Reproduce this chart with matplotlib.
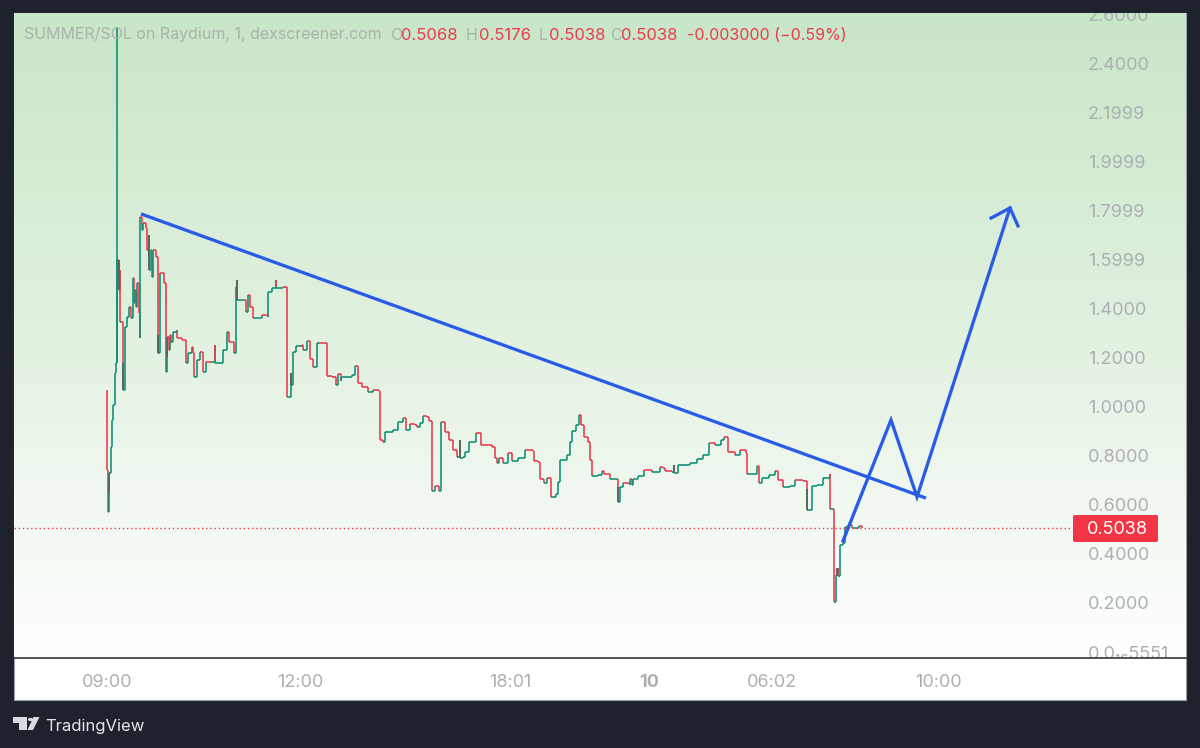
import numpy as np
import matplotlib
matplotlib.use('Agg')
import matplotlib.pyplot as plt
from matplotlib.patches import Rectangle, Polygon, Circle, FancyBboxPatch
from matplotlib.transforms import ScaledTranslation

# price bars as (bar index, close), 09:00 = bar 0
first_open = 1.065
bars_launch = [(0.3, 0.739), (1.3, 0.569), (2, 0.644), (2, 0.725), (3.7, 0.834), (5, 0.943), (6.3, 1.004),
               (7.7, 1.072), (7.7, 1.134), (9, 1.174), (10.3, 1.596), (11.7, 1.474), (13, 1.555),
               (13, 1.344), (15.3, 1.344), (16.3, 1.065), (18, 1.174), (18, 1.324), (19.7, 1.365), (22.3, 1.406),
               (23.7, 1.358), (25.7, 1.521), (27, 1.419), (28, 1.474), (29, 1.406), (30, 1.501), (31.7, 1.378),
               (32.7, 1.276), (33.3, 1.773), (34.7, 1.719), (36.3, 1.746), (38.7, 1.725), (39.7, 1.637),
               (41.7, 1.698), (41.7, 1.555), (43.7, 1.637), (45.3, 1.528), (46.3, 1.637), (48.7, 1.61),
               (50.7, 1.596), (50.7, 1.215), (53, 1.542), (57, 1.501), (59, 1.14)]
bars_range = [(60.3, 1.283), (61.7, 1.229), (63, 1.29), (64.3, 1.263), (66.3, 1.304), (69.7, 1.31), (69.7, 1.276),
              (74.7, 1.27), (78.7, 1.263), (78.7, 1.174), (81.3, 1.215), (84.7, 1.242), (85.7, 1.215), (87, 1.12),
              (89.7, 1.188), (93, 1.222), (95.7, 1.202), (95.7, 1.14), (98.7, 1.181), (104.7, 1.178), (108, 1.249),
              (108, 1.174), (113.7, 1.174), (115.7, 1.229), (119.7, 1.304), (122.3, 1.263), (127, 1.256),
              (127, 1.218), (128.7, 1.487), (130, 1.514), (130, 1.433), (135.7, 1.433), (138.7, 1.385),
              (140.7, 1.453), (143, 1.406), (146.3, 1.358), (151.3, 1.358), (154.7, 1.372), (161.3, 1.365),
              (161.3, 1.467), (164.7, 1.48), (169, 1.514), (169, 1.48), (176.3, 1.487), (179.7, 1.48)]
bars_slide = [(179.7, 1.038), (182, 1.038), (183.7, 1.134), (183.7, 1.086), (186.3, 1.222), (188.7, 1.246),
              (194.7, 1.249), (196.3, 1.229), (200.3, 1.267), (203, 1.191), (206.3, 1.161), (209.7, 1.256),
              (213, 1.259), (219.7, 1.246), (219.7, 1.123), (224.7, 1.12), (228.7, 1.086), (231.3, 1.131),
              (234, 1.1), (234, 1.12), (244.7, 1.127), (248, 1.165), (250.7, 1.093), (254.7, 1.079), (261.3, 1.059),
              (266.3, 1.065), (272, 1.061), (273, 0.949), (273, 0.861), (276.3, 0.854), (278, 0.895), (286.3, 0.904),
              (291.3, 0.936), (296.3, 0.949), (299, 0.902), (303, 0.925), (308, 0.922), (309.7, 0.913), (313, 0.929),
              (316.3, 0.959), (320.3, 0.956), (322.3, 0.94), (324.7, 0.936), (324.7, 0.653), (328, 0.673),
              (332, 0.653), (333.7, 0.936), (338, 0.895), (342.3, 0.861), (346.3, 0.82), (349.7, 0.793), (353, 0.861),
              (353, 0.786), (355.7, 0.793), (358, 0.813), (362.3, 0.854), (369, 0.891), (371.7, 0.888), (374, 0.841),
              (384.7, 0.834), (388, 0.786), (389.7, 0.768), (392.3, 0.786), (396.3, 0.768), (401.3, 0.809),
              (404.7, 0.777), (411.3, 0.789), (418, 0.82), (425.7, 0.817), (427, 0.777), (430.7, 0.772), (433, 0.704),
              (437, 0.687), (440.3, 0.707), (443.7, 0.63), (449, 0.641), (450.7, 0.691), (453, 0.779), (459.7, 0.8),
              (463, 0.854), (465.3, 0.899), (469, 0.922), (472, 0.963), (473.7, 0.922), (477, 0.875), (481.3, 0.854),
              (483, 0.779), (484.7, 0.714), (491.3, 0.718), (494.7, 0.736), (497.3, 0.722), (503, 0.704),
              (509.7, 0.704), (511, 0.609), (513, 0.67), (516.3, 0.684), (523, 0.677), (523, 0.704), (524.7, 0.677),
              (526.3, 0.7), (531.3, 0.714), (537, 0.738), (544.7, 0.729), (553, 0.752)]
bars_late = [(556, 0.745), (558, 0.736), (564.7, 0.732), (567, 0.759), (567, 0.727), (569.7, 0.727), (571.3, 0.761),
             (583, 0.768), (589.7, 0.782), (595.7, 0.8), (602.3, 0.847), (608, 0.84), (613.7, 0.861), (617, 0.872),
             (620.7, 0.854), (620.7, 0.813), (628, 0.8), (633, 0.82), (639, 0.809), (640.3, 0.722), (648, 0.722),
             (650.3, 0.756), (652, 0.684), (654.7, 0.708), (662.3, 0.718), (668, 0.736), (671.3, 0.697), (675.7, 0.67),
             (683, 0.673), (688, 0.697), (696.3, 0.695), (699.7, 0.663), (699.7, 0.575), (703, 0.575), (704.7, 0.673),
             (709.7, 0.677), (716.3, 0.708), (723, 0.722), (723, 0.578), (725.7, 0.578), (726.7, 0.201), (728.7, 0.31),
             (730.7, 0.337), (730.7, 0.307), (733.3, 0.432), (736.3, 0.439), (738, 0.507), (741.3, 0.514),
             (744.7, 0.5), (749.7, 0.5), (752.3, 0.51), (754.7, 0.5038)]

# the launch spike, green wick up to the all time high
spike_idx = 10.3
spike_low = 1.174
spike_high = 2.547

# darker wick-like stretches
wick_idx = [2, 11.7, 16.3, 41.7, 50.7, 59.5, 130, 183.7, 353, 511, 567, 699.7, 730]
wick_low = [0.644, 1.474, 1.065, 1.555, 1.215, 1.20, 1.433, 1.086, 0.786, 0.609, 0.727, 0.575, 0.307]
wick_high = [0.725, 1.596, 1.174, 1.698, 1.29, 1.283, 1.514, 1.134, 0.861, 0.67, 0.759, 0.663, 0.337]

last_price = 0.5038
legend_values = ['0.5068', '0.5176', '0.5038', '0.5038']

price_ticks = [2.6, 2.4, 2.2, 2.0, 1.8, 1.6, 1.4, 1.2, 1.0, 0.8, 0.6, 0.4, 0.2, 0.0]
price_labels = ['2.6000', '2.4000', '2.1999', '1.9999', '1.7999', '1.5999', '1.4000',
                '1.2000', '1.0000', '0.8000', '0.6000', '0.4000', '0.2000', '0.0\u2081\u20865551']
time_ticks = [0, 193, 403, 542, 665, 831]
time_labels = ['09:00', '12:00', '18:01', '10', '06:02', '10:00']

# hand drawn lines on the chart
trend_x = [34, 819]
trend_y = [1.784, 0.624]
path_x = [736, 784, 810, 903]
path_y = [0.449, 0.943, 0.629, 1.808]
arrow_x = [884, 903, 911]
arrow_y = [1.767, 1.808, 1.735]

plt.rcParams['font.family'] = ['Inter', 'DejaVu Sans']

W, H = 1200, 748
fig = plt.figure(figsize=(W / 100, H / 100), dpi=100, facecolor='#1e222d')
GREY = '#adb0b3'
UP = '#0a8f72'
DOWN = '#e8394a'
BLUE = '#2a5be6'


def fx(px):
    return px / W


def fy(py):
    return 1 - py / H


# white panel behind chart and time scale
fig.add_artist(Rectangle((fx(13.5), fy(700)), (1186 - 13.5) / W, (700 - 13) / H, transform=fig.transFigure,
                         facecolor='white', edgecolor='#9a9da3', lw=0.8, zorder=-1))

ax = fig.add_axes([fx(14), fy(658), (1186 - 14) / W, (658 - 13) / H])
ax.patch.set_visible(False)

# green to white area background
top = np.array([200, 230, 200]) / 255
mid = np.array([226, 241, 224]) / 255
bot = np.array([255, 255, 255]) / 255
t = np.linspace(0, 1, 300)[:, None]
grad = np.where(t < 0.5, top + (mid - top) * t * 2, mid + (bot - mid) * (t - 0.5) * 2)
ax.imshow(grad[:, None, :], extent=(0, 1, 0, 1), transform=ax.transAxes, aspect='auto', zorder=0)
ax.set_xlim(-93, 1079)
ax.set_ylim(-0.02857, 2.604)

# bars as a stepped line, colour by direction
bars = np.array(bars_launch + bars_range + bars_slide + bars_late)
xs = bars[:, 0]
closes = bars[:, 1]
opens = np.r_[first_open, closes[:-1]]
cols = [UP if c >= o else DOWN for o, c in zip(opens, closes)]
ax.vlines(xs, opens, closes, colors=cols, lw=1.15, zorder=2)
ax.hlines(opens[1:], xs[:-1], xs[1:], colors=cols[1:], lw=1.15, zorder=2)
ax.vlines(wick_idx, wick_low, wick_high, colors='#5c6660', lw=1.4, zorder=3)
ax.vlines(spike_idx, spike_low, spike_high, colors=UP, lw=1.15, zorder=3)

ax.plot([-93, 966], [last_price, last_price], color=DOWN, lw=1.0, ls=(0, (1, 2)), zorder=2)

ax.plot(trend_x, trend_y, color=BLUE, lw=2.35, solid_capstyle='butt', zorder=4)
ax.plot(path_x, path_y, color=BLUE, lw=2.35, solid_joinstyle='miter', zorder=4)
ax.plot(arrow_x, arrow_y, color=BLUE, lw=2.35, solid_joinstyle='miter', zorder=4)

# price scale
ax.yaxis.tick_right()
ax.set_yticks(price_ticks)
ax.set_yticklabels(price_labels)
ax.tick_params(axis='y', length=0, pad=-70.5, labelsize=13, labelcolor=GREY)
nudge = ScaledTranslation(0, -1 / 100, fig.dpi_scale_trans)
for lab in ax.get_yticklabels():
    lab.set_ha('left')
    lab.set_transform(lab.get_transform() + nudge)
    lab.set_clip_on(True)
    lab.set_clip_box(ax.bbox)

# time scale
ax.set_xticks(time_ticks)
ax.set_xticklabels(time_labels)
ax.tick_params(axis='x', length=0, pad=11.5, labelsize=13, labelcolor=GREY)
ax.get_xticklabels()[3].set_fontweight('bold')

for s in ['top', 'left', 'right']:
    ax.spines[s].set_visible(False)
ax.spines['bottom'].set_color('#33363d')
ax.spines['bottom'].set_linewidth(1.2)

# last price label
fig.add_artist(FancyBboxPatch((fx(1073), fy(542)), 85 / W, 27 / H, boxstyle='round,pad=0,rounding_size=0.002',
                              transform=fig.transFigure, facecolor='#f23645', edgecolor='none', zorder=5))
fig.text(fx(1087), fy(529), '0.5038', color='white', fontsize=13, va='center', ha='left', zorder=6)

# legend line
LEG = '#a9b3ab'
LRED = '#ee3b4b'
fig.text(fx(24), fy(35), 'SUMMER/SOL on Raydium, 1, dexscreener.com', color=LEG, fontsize=11.5, va='center')
legend_letters = ['O', 'H', 'L', 'C']
letter_x = [391, 466, 539, 611]
value_x = [401, 479, 549, 621]
for letter, val, lx, vx in zip(legend_letters, legend_values, letter_x, value_x):
    fig.text(fx(lx), fy(35), letter, color=LEG, fontsize=11.5, va='center')
    fig.text(fx(vx), fy(35), val, color=LRED, fontsize=12, va='center')
fig.text(fx(687), fy(35), '-0.003000 (\u22120.59%)', color=LRED, fontsize=11.5, va='center')

# TradingView logo
LOGO = '#d9dbe0'
fig.add_artist(Polygon([(fx(13), fy(717)), (fx(27), fy(717)), (fx(27), fy(730)), (fx(18.5), fy(730)),
                        (fx(18.5), fy(722.5)), (fx(13), fy(722.5))], transform=fig.transFigure, color=LOGO, lw=0))
fig.add_artist(Circle((fx(30.5), fy(719.5)), 2.6 / W, transform=fig.transFigure, color=LOGO, lw=0))
fig.add_artist(Polygon([(fx(33.5), fy(717)), (fx(39.5), fy(717)), (fx(33), fy(730)), (fx(27.5), fy(730))],
                       transform=fig.transFigure, color=LOGO, lw=0))
fig.text(fx(45.5), fy(726), 'TradingView', color='#e4e6ea', fontsize=12, va='center')

fig.savefig('out.png', dpi=100, facecolor=fig.get_facecolor())
